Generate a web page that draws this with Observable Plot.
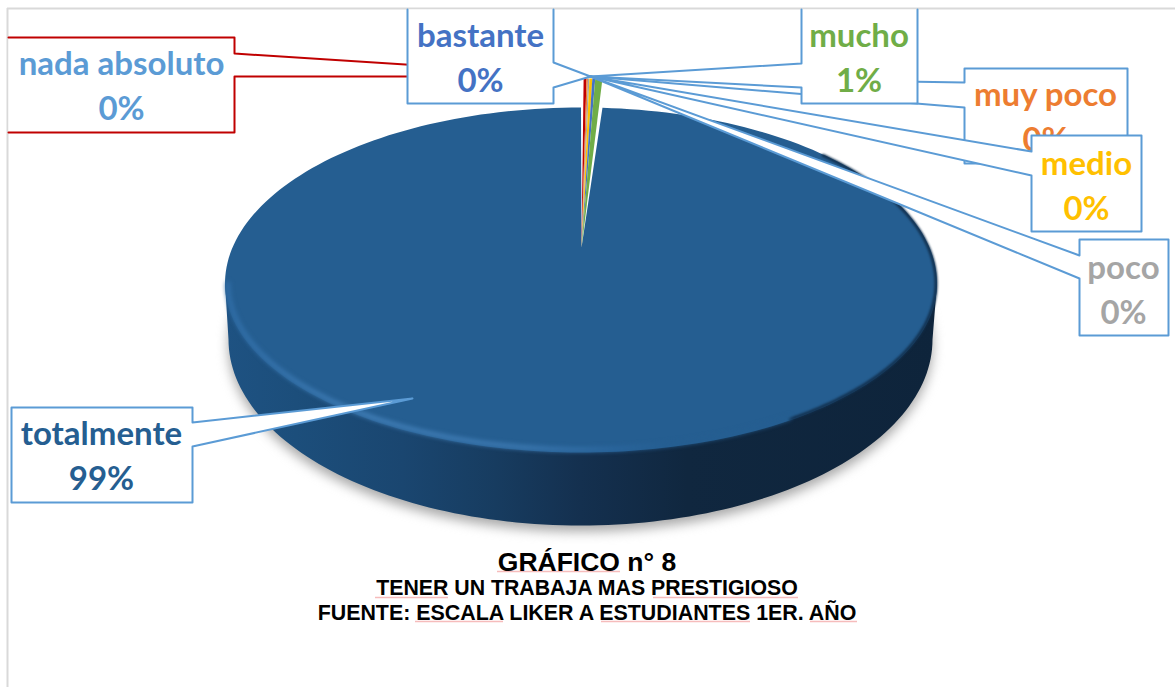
<!DOCTYPE html>
<html><head><meta charset="utf-8">
<script src="https://cdn.jsdelivr.net/npm/d3@7"></script>
<script src="https://cdn.jsdelivr.net/npm/@observablehq/plot@0.6"></script>
<style>html,body{margin:0;background:#fff}svg{display:block}</style>
</head><body><div id="chart"></div>
<script>
// ---- data (percent of the whole)
const categories = ["nada absoluto","muy poco","poco","medio","bastante","mucho","totalmente"];
const percents   = [0.2, 0.1, 0.1, 0.2, 0.2, 0.5, 98.7];
const sliceColors = ["#C00000","#ED7D31","#A5A5A5","#FFC000","#4472C4","#70AD47","#255E91"];
const labelColors = ["#5B9BD5","#ED7D31","#A5A5A5","#FFC000","#4472C4","#70AD47","#255E91"];
const titleLines = ["GRÁFICO n° 8","TENER UN TRABAJA MAS PRESTIGIOSO","FUENTE: ESCALA LIKER A ESTUDIANTES 1ER. AÑO"];

// ---- layout
const W = 1175, H = 687;
const pie = {cx: 580.5, cy: 283, rx: 356, ryBack: 176, ryFront: 169, apexX: 581, apexY: 247, wedgeRy: 169, squeeze: 0.65};
const base = {cx: 580, cy: 339, rx: 352, ry: 186};
const tip = [590, 76];
const callouts = {
  "nada absoluto": {at:[121,82.5], stroke:"#C00000", outline:[[8,37],[234,37],[234,53],tip,[234,76],[234,132],[8,132]]},
  "muy poco": {at:[1045,113.5], outline:[[964,68],[1127,68],[1127,163],[964,163],[964,107],tip,[964,82],[964,68]]},
  "medio": {at:[1086,182.5], outline:[[1031,135],[1141,135],[1141,231],[1031,231],[1031,175],tip,[1031,151],[1031,135]]},
  "poco": {at:[1123,286.5], outline:[[1079,239],[1168,239],[1168,335],[1079,335],[1079,278],tip,[1079,255],[1079,239]]},
  "bastante": {at:[480,54.5], outline:[[407,9],[407,103],[553,103],[553,87],tip,[553,62],[553,9]]},
  "mucho": {at:[858.5,54.5], outline:[[801,9],[801,63],tip,[801,87],[801,103],[917,103],[917,9]]},
  "totalmente": {at:[101,452.5], outline:[[11,407],[192,407],[192,422],[412,398],[192,446],[192,502],[11,502],[11,407]]}
};
const paintOrder = ["totalmente","nada absoluto","muy poco","medio","poco","bastante","mucho"];
const underlines = [[497,620,571],[375,448,597],[653,798,597],[415,503,621],[601,750,621],[810,857,621]];

// ---- geometry from the values
const arcs = d3.pie().sort(null).value(d => d).startAngle(0.0113).endAngle(2 * Math.PI)(percents);
const rimPoint = a => {
  const c = -Math.cos(a);
  return {x: pie.cx + pie.rx * Math.sin(a), y: pie.cy + (c < 0 ? pie.ryBack : pie.ryFront) * c};
};
const sweep = (a0, a1, f, n = 240) => d3.range(n + 1).map(i => f(a0 + (a1 - a0) * i / n));
const basePoint = a => ({x: base.cx + base.rx * Math.sin(a), y: base.cy - base.ry * Math.cos(a)});
const apex = {x: pie.apexX, y: pie.apexY};

const big = arcs[6];
const topFace = [apex, ...sweep(big.startAngle * pie.squeeze, big.endAngle, rimPoint), apex];
const wedges = arcs.slice(0, 6).flatMap((d, i) => [
  {...apex, i},
  ...sweep(d.startAngle * pie.squeeze, d.endAngle * pie.squeeze, a => ({
    x: pie.cx + pie.rx * Math.sin(a), y: pie.apexY - pie.wedgeRy * Math.cos(a)
  }), 4).map(p => ({...p, i}))
]);
const wall = [rimPoint(Math.PI / 2), ...sweep(Math.PI / 2, 3 * Math.PI / 2, basePoint, 120), rimPoint(3 * Math.PI / 2)];
const inset = (f, d) => a => { const p = f(a); return {x: p.x - d * Math.sin(a), y: p.y + d * Math.cos(a)}; };
const bevel = sweep(Math.PI * 0.8, Math.PI * 1.5, inset(rimPoint, 3), 120);
const darkRim = sweep(0.75, Math.PI * 0.8, inset(rimPoint, 1), 120);
const shadow = sweep(Math.PI * 0.42, Math.PI * 1.58, a => { const p = basePoint(a); return {x: p.x, y: p.y + 6}; }, 120);

const gradient = (id, stops) => {
  const g = d3.create("svg:linearGradient").attr("id", id)
    .attr("gradientUnits", "userSpaceOnUse").attr("x1", 224).attr("x2", 936).attr("y1", 0).attr("y2", 0);
  stops.forEach(([o, c]) => g.append("stop").attr("offset", o).attr("stop-color", c));
  return g.node();
};
const defs = () => {
  const d = d3.create("svg:defs");
  d.node().append(gradient("wallFill", [[0,"#1e5282"],[0.1,"#1c4e7b"],[0.25,"#1a4670"],[0.38,"#173c60"],[0.5,"#14304f"],[0.65,"#10273f"],[1,"#0e243b"]]));
  d.node().append(gradient("bevelStroke", [[0,"#2f6ca5"],[0.2,"#3f7cb4"],[0.42,"#3a76ae"],[0.55,"#2a659c"],[0.62,"#255E91"],[1,"#255E91"]]));
  return d.node();
};

// ---- marks
const marks = [
  defs,
  Plot.ruleY([8], {x1: 7, x2: W, stroke: "#d9d9d9", strokeWidth: 2}),
  Plot.ruleX([7], {y1: 8, y2: H, stroke: "#d9d9d9", strokeWidth: 2}),
  Plot.line(shadow, {x: "x", y: "y", fill: "#a8a8a8", stroke: "none", curve: "linear-closed", imageFilter: "blur(6px)"}),
  Plot.line(wall, {x: "x", y: "y", fill: "url(#wallFill)", stroke: "none", curve: "linear-closed"}),
  Plot.line(topFace, {x: "x", y: "y", fill: sliceColors[6], stroke: "none", curve: "linear-closed"}),
  Plot.line(darkRim, {x: "x", y: "y", stroke: "#12304e", strokeWidth: 3, imageFilter: "blur(1.2px)"}),
  Plot.line(bevel, {x: "x", y: "y", stroke: "url(#bevelStroke)", strokeWidth: 5, imageFilter: "blur(2px)"}),
  ...d3.range(6).map(i => Plot.line(wedges.filter(d => d.i === i), {x: "x", y: "y", fill: sliceColors[i], stroke: "none", curve: "linear-closed"}))
];
for (const name of paintOrder) {
  const c = callouts[name], i = categories.indexOf(name);
  marks.push(Plot.line(c.outline.map(([x, y]) => ({x, y})), {
    x: "x", y: "y", fill: "white", stroke: c.stroke || "#5B9BD5", strokeWidth: 2
  }));
  marks.push(Plot.text([`${name}\n${Math.round(percents[i])}%`], {
    x: () => c.at[0], y: () => c.at[1], text: d => d, fill: labelColors[i],
    fontFamily: "Lato", fontWeight: 700, fontSize: 33, lineHeight: 1.36, textAnchor: "middle"
  }));
}
marks.push(
  Plot.ruleY(underlines, {x1: d => d[0], x2: d => d[1], y: d => d[2], stroke: "#f6bcbc", strokeWidth: 1.5}),
  ...titleLines.map((t, i) => Plot.text([t], {
    x: () => 586.5, y: () => [562, 588, 613][i], text: d => d, fill: "#000",
    fontFamily: "Liberation Sans", fontWeight: 700, fontSize: [26.5, 21.3, 21.4][i], textAnchor: "middle"
  }))
);

document.getElementById("chart").append(Plot.plot({
  width: W, height: H, margin: 0,
  x: {domain: [0, W], range: [0, W], axis: null},
  y: {domain: [0, H], range: [0, H], axis: null},
  marks
}));
</script></body></html>
